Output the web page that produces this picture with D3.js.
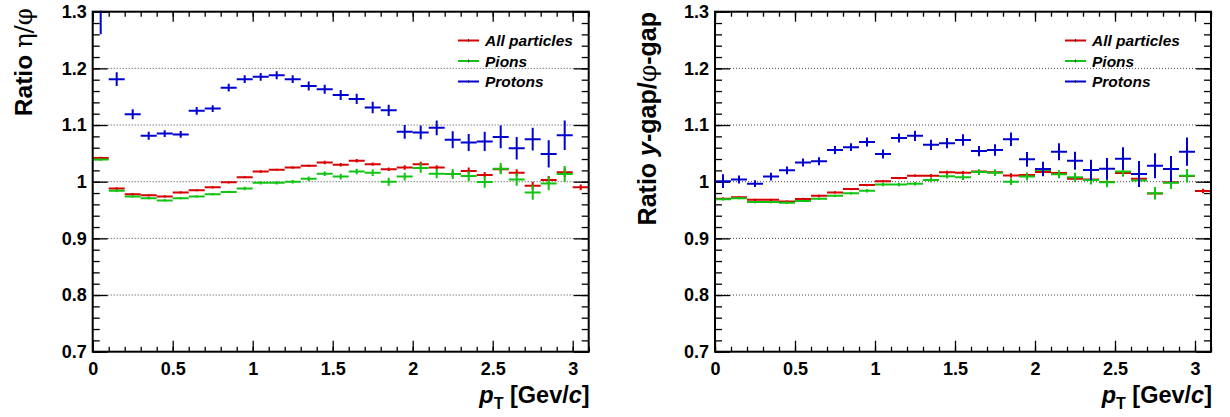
<!DOCTYPE html>
<html>
<head>
<meta charset="utf-8">
<script src="https://cdn.jsdelivr.net/npm/d3@7"></script>
<style>
  body { margin: 0; background: #fff; }
  svg text { font-family: "Liberation Sans", Arial, Helvetica, sans-serif; font-weight: bold; }
</style>
</head>
<body>
<svg id="chart" width="1230" height="417"></svg>
<script>
// bin centers in pT (GeV/c), bins are 0.1 wide
const binCenters = [0.05, 0.15, 0.25, 0.35, 0.45, 0.55, 0.65, 0.75, 0.85, 0.95,
  1.05, 1.15, 1.25, 1.35, 1.45, 1.55, 1.65, 1.75, 1.85, 1.95,
  2.05, 2.15, 2.25, 2.35, 2.45, 2.55, 2.65, 2.75, 2.85, 2.95, 3.05];

// left panel: eta / phi
const etaAll = [1.042, 0.988, 0.978, 0.976, 0.974, 0.981, 0.985, 0.990, 0.999, 1.008,
  1.018, 1.021, 1.025, 1.028, 1.034, 1.030, 1.037, 1.031, 1.022, 1.025,
  1.031, 1.025, 1.0135, 1.019, 1.012, 1.022, 1.016, 0.993, 1.003, 1.0165, 0.990];
const etaAllErr = [0.002, 0.002, 0.002, 0.002, 0.002, 0.002, 0.002, 0.002, 0.002, 0.002,
  0.002, 0.002, 0.002, 0.002, 0.003, 0.003, 0.003, 0.003, 0.003, 0.004,
  0.004, 0.004, 0.005, 0.006, 0.005, 0.006, 0.006, 0.007, 0.007, 0.008, 0.005];
const etaPions = [1.039, 0.984, 0.974, 0.971, 0.967, 0.971, 0.974, 0.978, 0.982, 0.988,
  0.998, 0.998, 1.000, 1.005, 1.014, 1.009, 1.018, 1.016, 1.000, 1.009,
  1.024, 1.014, 1.0136, 1.010, 0.9995, 1.023, 1.004, 0.981, 0.997, 1.0136, null];
const etaPionsErr = [0.002, 0.002, 0.002, 0.002, 0.002, 0.002, 0.002, 0.002, 0.002, 0.003,
  0.003, 0.003, 0.003, 0.004, 0.004, 0.005, 0.005, 0.006, 0.007, 0.007,
  0.008, 0.008, 0.009, 0.009, 0.010, 0.010, 0.011, 0.013, 0.012, 0.014, null];
const etaProtons = [1.30, 1.181, 1.119, 1.081, 1.085, 1.0835, 1.125, 1.129, 1.166, 1.181,
  1.185, 1.188, 1.181, 1.169, 1.163, 1.153, 1.146, 1.131, 1.126, 1.088,
  1.087, 1.095, 1.074, 1.069, 1.071, 1.079, 1.059, 1.075, 1.049, 1.082, null];
const etaProtonsErr = [0.04, 0.012, 0.009, 0.007, 0.006, 0.006, 0.007, 0.006, 0.007, 0.007,
  0.007, 0.007, 0.007, 0.008, 0.008, 0.009, 0.009, 0.010, 0.010, 0.012,
  0.012, 0.013, 0.015, 0.015, 0.017, 0.020, 0.020, 0.020, 0.024, 0.026, null];

// right panel: y-gap / phi-gap
const gapAll = [0.970, 0.9725, 0.968, 0.968, 0.965, 0.9695, 0.975, 0.981, 0.987, 0.994,
  1.001, 1.0065, 1.0106, 1.0106, 1.0165, 1.016, 1.018, 1.0165, 1.011, 1.012,
  1.017, 1.0155, 1.005, 1.004, 0.9995, 1.0155, 1.005, 0.979, 0.999, 1.010, 0.9836];
const gapAllErr = [0.002, 0.002, 0.002, 0.002, 0.002, 0.002, 0.002, 0.002, 0.002, 0.002,
  0.002, 0.002, 0.002, 0.003, 0.003, 0.003, 0.003, 0.003, 0.004, 0.004,
  0.004, 0.004, 0.005, 0.005, 0.005, 0.006, 0.006, 0.007, 0.007, 0.008, 0.004];
const gapPions = [0.969, 0.971, 0.964, 0.964, 0.963, 0.966, 0.970, 0.975, 0.9795, 0.984,
  0.995, 0.995, 0.9965, 1.003, 1.0095, 1.008, 1.017, 1.016, 1.000, 1.009,
  1.0206, 1.013, 1.008, 1.003, 0.999, 1.018, 1.002, 0.9795, 0.998, 1.0106, null];
const gapPionsErr = [0.002, 0.002, 0.002, 0.002, 0.002, 0.002, 0.002, 0.002, 0.002, 0.003,
  0.003, 0.003, 0.003, 0.004, 0.004, 0.005, 0.005, 0.006, 0.006, 0.007,
  0.007, 0.007, 0.008, 0.008, 0.009, 0.009, 0.010, 0.011, 0.011, 0.012, null];
const gapProtons = [1.001, 1.004, 0.9965, 1.009, 1.020, 1.034, 1.036, 1.056, 1.061, 1.070,
  1.049, 1.077, 1.081, 1.065, 1.068, 1.0736, 1.054, 1.056, 1.075, 1.0395,
  1.0224, 1.053, 1.037, 1.0206, 1.023, 1.0406, 1.0136, 1.028, 1.0224, 1.053, null];
const gapProtonsErr = [0.012, 0.007, 0.006, 0.007, 0.007, 0.007, 0.007, 0.007, 0.007, 0.008,
  0.008, 0.008, 0.009, 0.009, 0.009, 0.010, 0.009, 0.010, 0.012, 0.013,
  0.013, 0.015, 0.016, 0.018, 0.019, 0.020, 0.023, 0.022, 0.023, 0.025, null];

const seriesNames = ["All particles", "Pions", "Protons"];
const seriesColors = ["#d80000", "#12c412", "#0000d0"];
const xTicks = [0, 0.5, 1, 1.5, 2, 2.5, 3];
const yTicks = [0.7, 0.8, 0.9, 1.0, 1.1, 1.2, 1.3];
const gridValues = [0.8, 0.9, 1.0, 1.1, 1.2];
const binWidth = 0.1;

const svg = d3.select("#chart");
const fmt = d => String(+d.toFixed(1));

function drawPanel(opts) {
  const { left, right, top, bottom, series, legendX, id } = opts;

  const x = d3.scaleLinear().domain([0, 3.1]).range([left, right]);
  const y = d3.scaleLinear().domain([0.7, 1.3]).range([bottom, top]);

  const g = svg.append("g");

  // clip
  svg.append("clipPath").attr("id", "clip" + id)
    .append("rect")
    .attr("x", left).attr("y", top - 1)
    .attr("width", right - left).attr("height", bottom - top + 1);

  // grid (dotted)
  g.selectAll(".grid")
    .data(gridValues)
    .enter().append("line")
    .attr("x1", left).attr("x2", right)
    .attr("y1", d => y(d)).attr("y2", d => y(d))
    .attr("stroke", "#444")
    .attr("stroke-width", 1)
    .attr("stroke-dasharray", "1,2");

  // axes - ticks point inwards like ROOT
  const minorX = d3.range(0, 3.1001, 0.1);
  const minorY = d3.range(0.7, 1.3001, 0.02);

  const axisStyle = sel => {
    sel.select(".domain").remove();
    sel.selectAll(".tick line").attr("stroke", "#000").attr("stroke-width", 1.3);
  };

  g.append("g").attr("transform", `translate(0,${bottom})`)
    .call(d3.axisBottom(x).tickValues(minorX).tickSize(-5).tickFormat(""))
    .call(axisStyle);
  g.append("g").attr("transform", `translate(0,${bottom})`)
    .call(d3.axisBottom(x).tickValues(xTicks).tickSize(-11).tickPadding(6).tickFormat(fmt))
    .call(axisStyle)
    .selectAll("text")
    .attr("font-size", 18).attr("fill", "#000").attr("dy", "0.95em")
    .style("font-family", '"Liberation Sans", Arial, sans-serif').style("font-weight", "bold");

  g.append("g").attr("transform", `translate(0,${top})`)
    .call(d3.axisTop(x).tickValues(minorX).tickSize(-5).tickFormat(""))
    .call(axisStyle);
  g.append("g").attr("transform", `translate(0,${top})`)
    .call(d3.axisTop(x).tickValues(xTicks).tickSize(-10).tickFormat(""))
    .call(axisStyle);

  g.append("g").attr("transform", `translate(${left},0)`)
    .call(d3.axisLeft(y).tickValues(minorY).tickSize(-7).tickFormat(""))
    .call(axisStyle);
  g.append("g").attr("transform", `translate(${left},0)`)
    .call(d3.axisLeft(y).tickValues(yTicks).tickSize(-15).tickPadding(6).tickFormat(fmt))
    .call(axisStyle)
    .selectAll("text")
    .attr("font-size", 18).attr("fill", "#000")
    .style("font-family", '"Liberation Sans", Arial, sans-serif').style("font-weight", "bold");

  g.append("g").attr("transform", `translate(${right},0)`)
    .call(d3.axisRight(y).tickValues(minorY).tickSize(-7).tickFormat(""))
    .call(axisStyle);
  g.append("g").attr("transform", `translate(${right},0)`)
    .call(d3.axisRight(y).tickValues(yTicks).tickSize(-15).tickFormat(""))
    .call(axisStyle);

  // data points: horizontal bin bar + vertical error bar
  const dataG = g.append("g").attr("clip-path", `url(#clip${id})`);
  series.forEach((s, i) => {
    const pts = binCenters.map((c, k) => ({ c, v: s.values[k], e: s.errors[k] }))
      .filter(p => p.v != null);
    const sg = dataG.append("g").attr("stroke", seriesColors[i]).attr("stroke-width", 2);
    sg.selectAll(".h").data(pts).enter().append("line")
      .attr("x1", d => x(d.c - binWidth / 2)).attr("x2", d => x(d.c + binWidth / 2))
      .attr("y1", d => y(d.v)).attr("y2", d => y(d.v));
    sg.selectAll(".v").data(pts).enter().append("line")
      .attr("x1", d => x(d.c)).attr("x2", d => x(d.c))
      .attr("y1", d => y(d.v - d.e)).attr("y2", d => y(d.v + d.e));
  });

  // frame
  g.append("rect")
    .attr("x", left).attr("y", top)
    .attr("width", right - left).attr("height", bottom - top)
    .attr("fill", "none").attr("stroke", "#000").attr("stroke-width", 2);

  // legend
  const lg = g.append("g");
  seriesNames.forEach((name, i) => {
    const cy = 40.5 + i * 20.5;
    lg.append("line").attr("x1", legendX).attr("x2", legendX + 21)
      .attr("y1", cy).attr("y2", cy)
      .attr("stroke", seriesColors[i]).attr("stroke-width", 2);
    lg.append("line").attr("x1", legendX + 10.5).attr("x2", legendX + 10.5)
      .attr("y1", cy - 1.5).attr("y2", cy + 1.5)
      .attr("stroke", "#333").attr("stroke-width", 1);
    lg.append("text").attr("x", legendX + 27).attr("y", cy + 5.5)
      .attr("font-size", 15.5).attr("font-style", "italic")
      .text(name);
  });

  // x title
  const xt = g.append("text")
    .attr("x", right + 1).attr("y", 403)
    .attr("text-anchor", "end")
    .attr("font-size", 23.5);
  xt.append("tspan").attr("font-style", "italic").text("p");
  xt.append("tspan").attr("font-size", 16).attr("dy", 6).text("T");
  xt.append("tspan").attr("dy", -6).text(" [Gev/");
  xt.append("tspan").attr("font-style", "italic").text("c");
  xt.append("tspan").text("]");

  return g;
}

drawPanel({
  id: "L", left: 92.7, right: 588.7, top: 11.7, bottom: 351.7, legendX: 458,
  series: [
    { values: etaAll, errors: etaAllErr },
    { values: etaPions, errors: etaPionsErr },
    { values: etaProtons, errors: etaProtonsErr }
  ]
});

drawPanel({
  id: "R", left: 715, right: 1211, top: 11.7, bottom: 351.7, legendX: 1065,
  series: [
    { values: gapAll, errors: gapAllErr },
    { values: gapPions, errors: gapPionsErr },
    { values: gapProtons, errors: gapProtonsErr }
  ]
});

// y titles (rotated)
const yl = svg.append("text")
  .attr("transform", "translate(32,8) rotate(-90)")
  .attr("text-anchor", "end")
  .attr("font-size", 24.5);
yl.append("tspan").text("Ratio ");
yl.append("tspan").style("font-family", '"DejaVu Serif", "Liberation Serif", serif')
  .style("font-weight", "normal").text("η/φ");

const yr = svg.append("text")
  .attr("transform", "translate(656,12) rotate(-90)")
  .attr("text-anchor", "end")
  .attr("font-size", 25);
yr.append("tspan").text("Ratio ");
yr.append("tspan").attr("font-style", "italic").text("y");
yr.append("tspan").text("-gap/");
yr.append("tspan").style("font-family", '"DejaVu Serif", "Liberation Serif", serif')
  .style("font-weight", "normal").text("φ");
yr.append("tspan").text("-gap");
</script>
</body>
</html>
